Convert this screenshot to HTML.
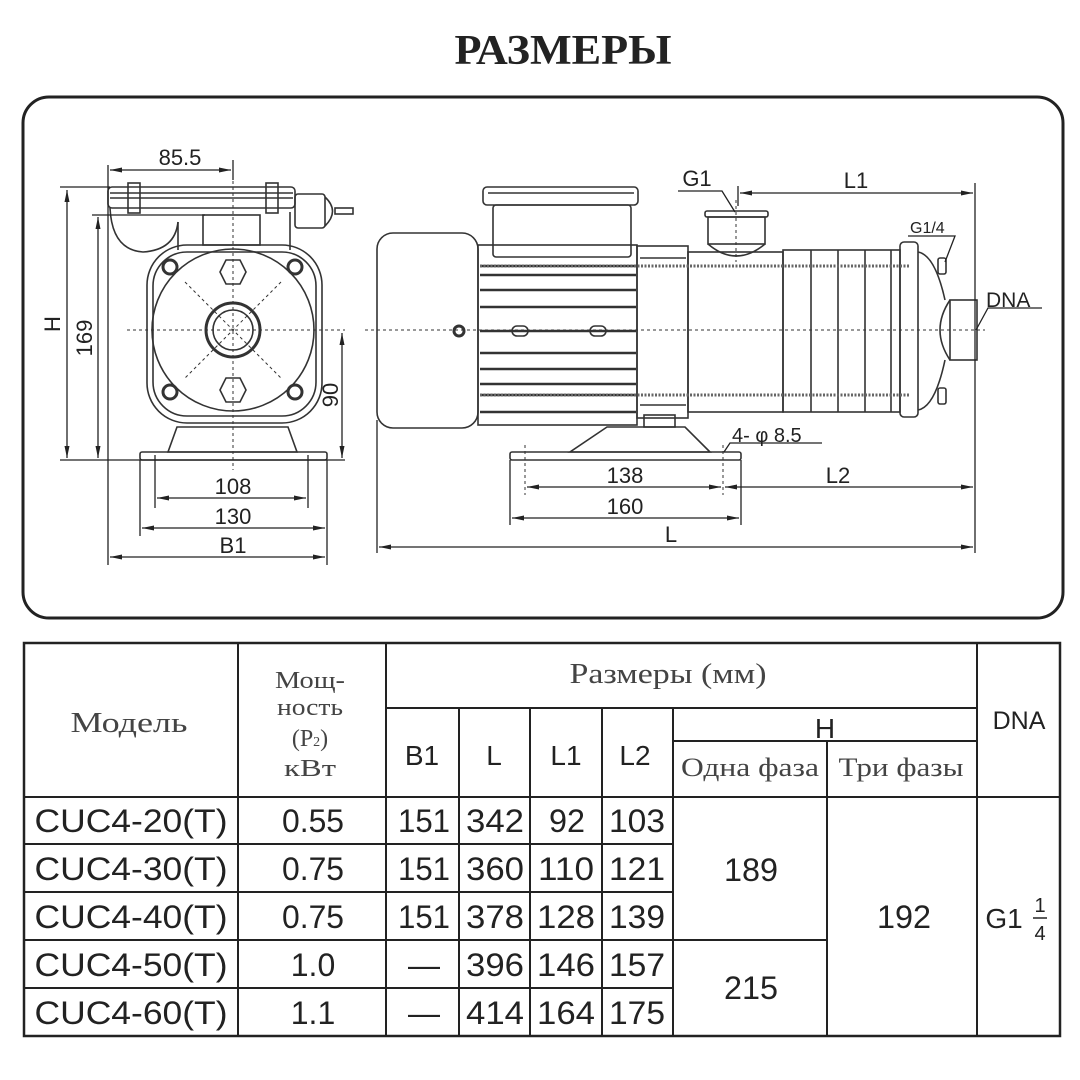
<!DOCTYPE html>
<html><head><meta charset="utf-8"><style>
body{margin:0;background:#fff;width:1080px;height:1080px;overflow:hidden}
svg{position:absolute;left:0;top:0}
.s{font-family:"Liberation Sans",sans-serif}
.r{font-family:"Liberation Serif",serif}
</style></head><body>
<svg width="1080" height="1080" viewBox="0 0 1080 1080" xmlns="http://www.w3.org/2000/svg">
<defs>
<marker id="a" viewBox="0 0 12 6" refX="12" refY="3" markerWidth="12" markerHeight="6" orient="auto-start-reverse" markerUnits="userSpaceOnUse"><path d="M0,0.5 L12,3 L0,5.5z" fill="#222"/></marker>
</defs>
<text x="563" y="64" text-anchor="middle" class="r" font-size="42" font-weight="bold" fill="#222" textLength="217" lengthAdjust="spacingAndGlyphs">РАЗМЕРЫ</text>
<rect x="23" y="97" width="1040" height="521" rx="26" fill="none" stroke="#222" stroke-width="3"/>

<g fill="none" stroke="#333" stroke-width="1.6">
<rect x="108" y="187" width="187" height="21" rx="4"/>
<line x1="110" y1="193" x2="293" y2="193"/><line x1="110" y1="198" x2="293" y2="198"/>
<rect x="128" y="183" width="12" height="30"/><rect x="266" y="183" width="12" height="30"/>
<rect x="295" y="194" width="30" height="34" rx="3"/><path d="M325,197 Q340,211 325,226"/>
<rect x="335" y="208" width="18" height="6"/>
<path d="M110,208 Q112,250 143,252 Q175,250 178,222"/>
<rect x="203" y="215" width="57" height="30"/>
<line x1="178" y1="222" x2="178" y2="250"/><line x1="290" y1="212" x2="290" y2="250"/>
<rect x="147" y="245" width="175" height="178" rx="40"/>
<rect x="153" y="252" width="163" height="164" rx="34"/>
<circle cx="233" cy="330" r="81"/>
<circle cx="233" cy="330" r="27" stroke-width="3"/><circle cx="233" cy="330" r="20"/>
<circle cx="170" cy="267" r="7" stroke-width="3"/><circle cx="295" cy="267" r="7" stroke-width="3"/>
<circle cx="170" cy="392" r="7" stroke-width="3"/><circle cx="295" cy="392" r="7" stroke-width="3"/>
<path d="M220,272 L226,260 L240,260 L246,272 L240,284 L226,284z"/>
<path d="M220,390 L226,378 L240,378 L246,390 L240,402 L226,402z"/>
<path d="M177,427 L288,427 L297,452 L168,452z"/>
<rect x="140" y="452" width="187" height="8" rx="2"/>
<g stroke-dasharray="3,3" stroke-width="1"><line x1="127" y1="330" x2="345" y2="330"/><line x1="233" y1="175" x2="233" y2="470"/>
<line x1="185" y1="282" x2="281" y2="378"/><line x1="281" y1="282" x2="185" y2="378"/></g>

<rect x="377" y="233" width="101" height="195" rx="16"/>
<rect x="478" y="245" width="159" height="180"/>
<g stroke-width="2.4"><line x1="480" y1="266" x2="636" y2="266"/><line x1="480" y1="275" x2="636" y2="275"/><line x1="480" y1="290" x2="636" y2="290"/>
<line x1="480" y1="307" x2="636" y2="307"/><line x1="480" y1="331" x2="636" y2="331"/><line x1="480" y1="353" x2="636" y2="353"/>
<line x1="480" y1="369" x2="636" y2="369"/><line x1="480" y1="384" x2="636" y2="384"/><line x1="480" y1="395" x2="636" y2="395"/><line x1="480" y1="412" x2="636" y2="412"/></g>
<circle cx="459" cy="331" r="5" stroke-width="3"/>
<rect x="512" y="326" width="16" height="10" rx="5"/><rect x="590" y="326" width="16" height="10" rx="5"/>
<rect x="483" y="187" width="155" height="18" rx="4"/><rect x="493" y="205" width="138" height="52" rx="3"/>
<line x1="488" y1="193" x2="634" y2="193"/>
<rect x="637" y="246" width="51" height="172"/><line x1="640" y1="258" x2="686" y2="258"/><line x1="640" y1="405" x2="686" y2="405"/>
<rect x="688" y="252" width="95" height="160"/>
<rect x="783" y="250" width="117" height="162"/>
<line x1="811" y1="250" x2="811" y2="412"/><line x1="838" y1="250" x2="838" y2="412"/><line x1="865" y1="250" x2="865" y2="412"/><line x1="891" y1="250" x2="891" y2="412"/>
<rect x="900" y="242" width="18" height="175" rx="4"/>
<path d="M918,252 Q935,255 945,300 M918,410 Q935,407 945,360"/>
<path d="M950,300 Q930,330 950,360"/>
<rect x="950" y="300" width="27" height="60"/>
<rect x="938" y="258" width="8" height="16" rx="2"/><rect x="938" y="388" width="8" height="16" rx="2"/>
<rect x="705" y="211" width="63" height="6" rx="2"/><rect x="708" y="217" width="57" height="27"/>
<path d="M708,244 Q736,268 765,244"/>
<rect x="644" y="415" width="31" height="12"/>
<path d="M607,427 L685,427 L710,452 L570,452z"/>
<rect x="510" y="452" width="231" height="8" rx="2"/>
<g stroke-width="3" stroke-dasharray="2,1.5" stroke="#666"><line x1="480" y1="266" x2="910" y2="266"/><line x1="480" y1="395" x2="910" y2="395"/></g>
<g stroke-dasharray="3,3" stroke-width="1"><line x1="365" y1="330" x2="985" y2="330"/><line x1="736" y1="200" x2="736" y2="262"/>
<line x1="525" y1="445" x2="525" y2="495"/><line x1="723" y1="445" x2="723" y2="495"/></g>
</g>

<g stroke="#222" stroke-width="1.3" fill="none">
<line x1="108" y1="165" x2="108" y2="565"/><line x1="233" y1="160" x2="233" y2="180"/>
<line x1="60" y1="187" x2="110" y2="187"/><line x1="60" y1="460" x2="345" y2="460"/><line x1="92" y1="215" x2="205" y2="215"/>
<line x1="327" y1="460" x2="327" y2="565"/><line x1="140" y1="460" x2="140" y2="536"/>
<line x1="155" y1="455" x2="155" y2="508"/><line x1="308" y1="455" x2="308" y2="508"/>
<line x1="110" y1="170" x2="231" y2="170" marker-start="url(#a)" marker-end="url(#a)"/>
<line x1="67" y1="190" x2="67" y2="458" marker-start="url(#a)" marker-end="url(#a)"/>
<line x1="98" y1="217" x2="98" y2="458" marker-start="url(#a)" marker-end="url(#a)"/>
<line x1="342" y1="333" x2="342" y2="458" marker-start="url(#a)" marker-end="url(#a)"/>
<line x1="157" y1="498" x2="306" y2="498" marker-start="url(#a)" marker-end="url(#a)"/>
<line x1="142" y1="528" x2="325" y2="528" marker-start="url(#a)" marker-end="url(#a)"/>
<line x1="110" y1="557" x2="325" y2="557" marker-start="url(#a)" marker-end="url(#a)"/>
<line x1="377" y1="420" x2="377" y2="553"/><line x1="975" y1="183" x2="975" y2="553"/>
<line x1="738" y1="186" x2="738" y2="206"/>
<line x1="510" y1="460" x2="510" y2="525"/><line x1="741" y1="460" x2="741" y2="525"/>
<line x1="740" y1="193" x2="973" y2="193" marker-start="url(#a)" marker-end="url(#a)"/>
<line x1="527" y1="487" x2="721" y2="487" marker-start="url(#a)" marker-end="url(#a)"/>
<line x1="725" y1="487" x2="973" y2="487" marker-start="url(#a)" marker-end="url(#a)"/>
<line x1="512" y1="518" x2="739" y2="518" marker-start="url(#a)" marker-end="url(#a)"/>
<line x1="379" y1="547" x2="973" y2="547" marker-start="url(#a)" marker-end="url(#a)"/>
<polyline points="678,191 722,191 735,212"/>
<polyline points="908,236 955,236 945,262"/>
<polyline points="1042,308 988,308 976,330"/>
<polyline points="822,443 730,443 724,452"/>
</g>
<g class="s" fill="#222" font-size="22">
<text x="180" y="165" text-anchor="middle">85.5</text>
<text transform="translate(60,324) rotate(-90)" text-anchor="middle">H</text>
<text transform="translate(92,338) rotate(-90)" text-anchor="middle">169</text>
<text transform="translate(338,395) rotate(-90)" text-anchor="middle">90</text>
<text x="233" y="494" text-anchor="middle">108</text>
<text x="233" y="524" text-anchor="middle">130</text>
<text x="233" y="553" text-anchor="middle">B1</text>
<text x="697" y="186" text-anchor="middle">G1</text>
<text x="856" y="188" text-anchor="middle">L1</text>
<text x="910" y="233" font-size="16">G1/4</text>
<text x="986" y="307" font-size="21">DNA</text>
<text x="732" y="442" font-size="20">4- φ 8.5</text>
<text x="625" y="483" text-anchor="middle">138</text>
<text x="838" y="483" text-anchor="middle">L2</text>
<text x="625" y="514" text-anchor="middle">160</text>
<text x="671" y="542" text-anchor="middle">L</text>
</g>

<g stroke="#222" fill="none">
<rect x="24" y="643" width="1036" height="393" stroke-width="2.5"/>
<g stroke-width="2">
<line x1="238" y1="643" x2="238" y2="1036"/><line x1="386" y1="643" x2="386" y2="1036"/><line x1="977" y1="643" x2="977" y2="1036"/>
<line x1="386" y1="708" x2="977" y2="708"/><line x1="673" y1="741" x2="977" y2="741"/>
<line x1="459" y1="708" x2="459" y2="1036"/><line x1="530" y1="708" x2="530" y2="1036"/><line x1="602" y1="708" x2="602" y2="1036"/><line x1="673" y1="708" x2="673" y2="1036"/>
<line x1="827" y1="741" x2="827" y2="1036"/>
<line x1="24" y1="797" x2="1060" y2="797"/>
<line x1="24" y1="844" x2="673" y2="844"/><line x1="24" y1="892" x2="673" y2="892"/><line x1="24" y1="940" x2="827" y2="940"/><line x1="24" y1="988" x2="673" y2="988"/>
</g></g>
<g class="r" fill="#444" font-size="28" text-anchor="middle">
<text x="129" y="732" textLength="117" lengthAdjust="spacingAndGlyphs">Модель</text>
<text x="310" y="688" font-size="24" textLength="70" lengthAdjust="spacingAndGlyphs">Мощ-</text>
<text x="310" y="715" font-size="24" textLength="66" lengthAdjust="spacingAndGlyphs">ность</text>
<text x="310" y="746" font-size="24">(P<tspan font-size="14">2</tspan>)</text>
<text x="310" y="776" font-size="24" textLength="52" lengthAdjust="spacingAndGlyphs">кВт</text>
<text x="668" y="683" textLength="197" lengthAdjust="spacingAndGlyphs">Размеры (мм)</text>
<text x="750" y="776" font-size="26" textLength="138" lengthAdjust="spacingAndGlyphs">Одна фаза</text>
<text x="901" y="776" font-size="26" textLength="125" lengthAdjust="spacingAndGlyphs">Три фазы</text>
</g>
<g class="s" fill="#222" font-size="32" text-anchor="middle">
<text x="422" y="765" font-size="28">B1</text><text x="494" y="765" font-size="28">L</text><text x="566" y="765" font-size="28">L1</text><text x="635" y="765" font-size="28">L2</text>
<text x="825" y="738" font-size="28">H</text>
<text x="1019" y="729" font-size="25">DNA</text>
<text x="131" y="832" textLength="193" lengthAdjust="spacingAndGlyphs">CUC4-20(T)</text><text x="313" y="832" textLength="62" lengthAdjust="spacingAndGlyphs">0.55</text><text x="424" y="832" textLength="52" lengthAdjust="spacingAndGlyphs">151</text><text x="495" y="832" textLength="58" lengthAdjust="spacingAndGlyphs">342</text><text x="567" y="832" textLength="36" lengthAdjust="spacingAndGlyphs">92</text><text x="637" y="832" textLength="56" lengthAdjust="spacingAndGlyphs">103</text>
<text x="131" y="880" textLength="193" lengthAdjust="spacingAndGlyphs">CUC4-30(T)</text><text x="313" y="880" textLength="62" lengthAdjust="spacingAndGlyphs">0.75</text><text x="424" y="880" textLength="52" lengthAdjust="spacingAndGlyphs">151</text><text x="495" y="880" textLength="58" lengthAdjust="spacingAndGlyphs">360</text><text x="566" y="880" textLength="56" lengthAdjust="spacingAndGlyphs">110</text><text x="637" y="880" textLength="56" lengthAdjust="spacingAndGlyphs">121</text>
<text x="131" y="928" textLength="193" lengthAdjust="spacingAndGlyphs">CUC4-40(T)</text><text x="313" y="928" textLength="62" lengthAdjust="spacingAndGlyphs">0.75</text><text x="424" y="928" textLength="52" lengthAdjust="spacingAndGlyphs">151</text><text x="495" y="928" textLength="58" lengthAdjust="spacingAndGlyphs">378</text><text x="566" y="928" textLength="58" lengthAdjust="spacingAndGlyphs">128</text><text x="637" y="928" textLength="56" lengthAdjust="spacingAndGlyphs">139</text>
<text x="131" y="976" textLength="193" lengthAdjust="spacingAndGlyphs">CUC4-50(T)</text><text x="313" y="976">1.0</text><text x="424" y="976">—</text><text x="495" y="976" textLength="58" lengthAdjust="spacingAndGlyphs">396</text><text x="566" y="976" textLength="58" lengthAdjust="spacingAndGlyphs">146</text><text x="637" y="976" textLength="56" lengthAdjust="spacingAndGlyphs">157</text>
<text x="131" y="1024" textLength="193" lengthAdjust="spacingAndGlyphs">CUC4-60(T)</text><text x="313" y="1024">1.1</text><text x="424" y="1024">—</text><text x="495" y="1024" textLength="58" lengthAdjust="spacingAndGlyphs">414</text><text x="566" y="1024" textLength="58" lengthAdjust="spacingAndGlyphs">164</text><text x="637" y="1024" textLength="56" lengthAdjust="spacingAndGlyphs">175</text>
<text x="751" y="881" textLength="54" lengthAdjust="spacingAndGlyphs">189</text><text x="751" y="999" textLength="54" lengthAdjust="spacingAndGlyphs">215</text><text x="904" y="928" textLength="54" lengthAdjust="spacingAndGlyphs">192</text>
<text x="1004" y="928" font-size="28">G1</text>
<text x="1040" y="912" font-size="20">1</text><line x1="1033" y1="918" x2="1047" y2="918" stroke="#222" stroke-width="1.5"/><text x="1040" y="940" font-size="20">4</text>
</g>
</svg>
</body></html>
